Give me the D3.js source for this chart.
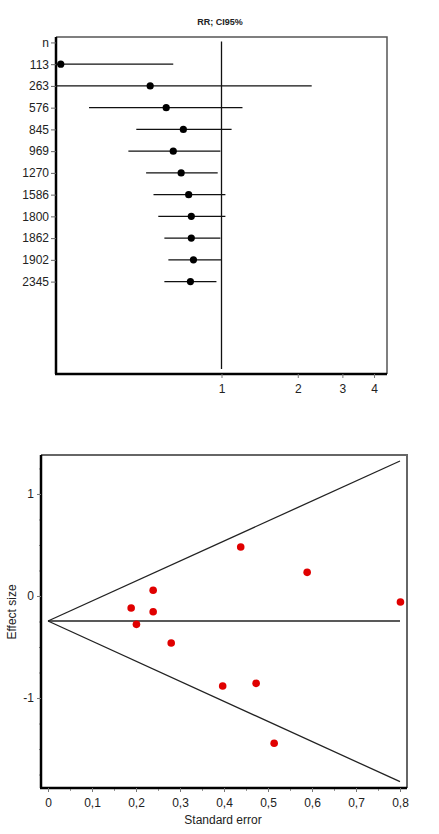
<!DOCTYPE html>
<html>
<head>
<meta charset="utf-8">
<script src="https://cdn.jsdelivr.net/npm/d3@7"></script>
<style>
  body { margin: 0; background: #fff; }
  svg { display: block; font-family: "Liberation Sans", Arial, sans-serif; }
  .tick text { fill: #222; font-size: 12px; }
</style>
</head>
<body>
<svg id="chart" width="439" height="834"></svg>
<script>
// forest plot (cumulative n)
const rowLabels = ["n", "113", "263", "576", "845", "969", "1270", "1586", "1800", "1862", "1902", "2345"];
const rr      = [0.232, 0.523, 0.605, 0.707, 0.645, 0.693, 0.742, 0.76, 0.76, 0.775, 0.754];
const ciLow   = [0.15, 0.15, 0.300, 0.461, 0.429, 0.504, 0.539, 0.563, 0.595, 0.617, 0.595];
const ciHigh  = [0.645, 2.27, 1.21, 1.096, 0.99, 0.966, 1.036, 1.036, 0.99, 1.0, 0.955];
const rrTicks = [1, 2, 3, 4];

// funnel plot
const se     = [0.438, 0.589, 0.801, 0.239, 0.189, 0.239, 0.201, 0.280, 0.397, 0.473, 0.514];
const effect = [0.48, 0.232, -0.059, 0.056, -0.118, -0.154, -0.278, -0.461, -0.882, -0.856, -1.444];
const funnelSE    = [0, 0.8];
const funnelUpper = [-0.245, 1.323];
const funnelLower = [-0.245, -1.82];
const pooled = -0.245;
const seTicks = [0, 0.1, 0.2, 0.3, 0.4, 0.5, 0.6, 0.7, 0.8];
const effTicks = [-1, 0, 1];

const svg = d3.select("#chart");
const comma = d => String(d).replace(".", ",");

// ---------- top: forest plot ----------
const f = { left: 56, right: 387, top: 37, bottom: 374 };

const x1 = d3.scaleLog().domain([1 / 4.5, 4.5]).range([f.left, f.right]);
const y1 = d3.scaleLinear().domain([-0.25, 15.25]).range([f.top, f.bottom]);

svg.append("text")
  .attr("x", 220).attr("y", 25)
  .attr("text-anchor", "middle")
  .attr("font-size", 9).attr("font-weight", "bold")
  .attr("fill", "#222")
  .text("RR; CI95%");

svg.append("defs").append("clipPath").attr("id", "clipForest")
  .append("rect")
  .attr("x", f.left).attr("y", f.top)
  .attr("width", f.right - f.left).attr("height", f.bottom - f.top);

// thin top/right frame
svg.append("path")
  .attr("d", `M${f.left},${f.top}H${f.right}V${f.bottom}`)
  .attr("fill", "none").attr("stroke", "#555").attr("stroke-width", 1.5);

svg.append("g")
  .attr("transform", `translate(${f.left},0)`)
  .call(d3.axisLeft(y1).tickValues(d3.range(rowLabels.length)).tickFormat(i => rowLabels[i]).tickSize(5).tickPadding(2))
  .call(g => g.select(".domain").attr("stroke", "#000").attr("stroke-width", 2.5).attr("d", `M0,${f.top}V${f.bottom}`))
  .call(g => g.selectAll(".tick line").attr("stroke", "#666"));

svg.append("g")
  .attr("transform", `translate(0,${f.bottom})`)
  .call(d3.axisBottom(x1).tickValues(rrTicks).tickFormat(d => String(d)).tickSize(4).tickPadding(6))
  .call(g => g.select(".domain").attr("stroke", "#000").attr("stroke-width", 2.5).attr("d", `M${f.left - 1},0H${f.right}`))
  .call(g => g.selectAll(".tick line").attr("stroke", "#777"));

svg.append("line")
  .attr("x1", x1(1)).attr("x2", x1(1))
  .attr("y1", y1(0) - 1).attr("y2", f.bottom - 5)
  .attr("stroke", "#111").attr("stroke-width", 1.3);

const gF = svg.append("g").attr("clip-path", "url(#clipForest)");

gF.selectAll("line.ci")
  .data(rr)
  .join("line")
  .attr("class", "ci")
  .attr("x1", (d, i) => x1(ciLow[i]))
  .attr("x2", (d, i) => x1(ciHigh[i]))
  .attr("y1", (d, i) => y1(i + 1))
  .attr("y2", (d, i) => y1(i + 1))
  .attr("stroke", "#111").attr("stroke-width", 1.3);

gF.selectAll("circle")
  .data(rr)
  .join("circle")
  .attr("cx", d => x1(d))
  .attr("cy", (d, i) => y1(i + 1))
  .attr("r", 3.6)
  .attr("fill", "#000");

// ---------- bottom: funnel plot ----------
const p = { left: 41, right: 407, top: 455, bottom: 788 };

const x2 = d3.scaleLinear().domain([0, 0.8]).range([48, 400]);
const y2 = d3.scaleLinear().domain([-1.882, 1.382]).range([p.bottom, p.top]);

svg.append("path")
  .attr("d", `M${p.left},${p.top}H${p.right}V${p.bottom}`)
  .attr("fill", "none").attr("stroke", "#666").attr("stroke-width", 2);

// minor ticks
svg.append("g")
  .attr("transform", `translate(0,${p.bottom})`)
  .call(d3.axisBottom(x2).tickValues(d3.range(0.05, 0.8, 0.1)).tickFormat("").tickSize(3))
  .call(g => g.select(".domain").remove())
  .call(g => g.selectAll(".tick line").attr("stroke", "#999"));

svg.append("g")
  .attr("transform", `translate(${p.left},0)`)
  .call(d3.axisLeft(y2).tickValues(d3.range(-1.75, 1.3, 0.25).filter(v => Math.abs(v - Math.round(v)) > 0.01)).tickFormat("").tickSize(2))
  .call(g => g.select(".domain").remove())
  .call(g => g.selectAll(".tick line").attr("stroke", "#999"));

svg.append("g")
  .attr("transform", `translate(0,${p.bottom})`)
  .call(d3.axisBottom(x2).tickValues(seTicks).tickFormat(comma).tickSize(4).tickPadding(6))
  .call(g => g.select(".domain").attr("stroke", "#000").attr("stroke-width", 2.5).attr("d", `M${p.left - 1},0H${p.right}`))
  .call(g => g.selectAll(".tick line").attr("stroke", "#777"));

svg.append("g")
  .attr("transform", `translate(${p.left},0)`)
  .call(d3.axisLeft(y2).tickValues(effTicks).tickFormat(d => String(d)).tickSize(4).tickPadding(3))
  .call(g => g.select(".domain").attr("stroke", "#000").attr("stroke-width", 2.5).attr("d", `M0,${p.top}V${p.bottom}`))
  .call(g => g.selectAll(".tick line").attr("stroke", "#777"));

svg.append("text")
  .attr("x", 223).attr("y", 824)
  .attr("text-anchor", "middle")
  .attr("font-size", 12).attr("fill", "#222")
  .text("Standard error");

svg.append("text")
  .attr("transform", "rotate(-90)")
  .attr("x", -612).attr("y", 16)
  .attr("text-anchor", "middle")
  .attr("font-size", 12).attr("fill", "#222")
  .text("Effect size");

const line = d3.line().x(d => x2(d[0])).y(d => y2(d[1]));

svg.append("path")
  .attr("d", line(funnelSE.map((s, i) => [s, funnelUpper[i]])))
  .attr("fill", "none").attr("stroke", "#222").attr("stroke-width", 1.3);
svg.append("path")
  .attr("d", line(funnelSE.map((s, i) => [s, funnelLower[i]])))
  .attr("fill", "none").attr("stroke", "#222").attr("stroke-width", 1.3);
svg.append("path")
  .attr("d", line(funnelSE.map(s => [s, pooled])))
  .attr("fill", "none").attr("stroke", "#222").attr("stroke-width", 1.3);

svg.append("g").selectAll("circle")
  .data(se)
  .join("circle")
  .attr("cx", d => x2(d))
  .attr("cy", (d, i) => y2(effect[i]))
  .attr("r", 3.8)
  .attr("fill", "#e00000");
</script>
</body>
</html>
